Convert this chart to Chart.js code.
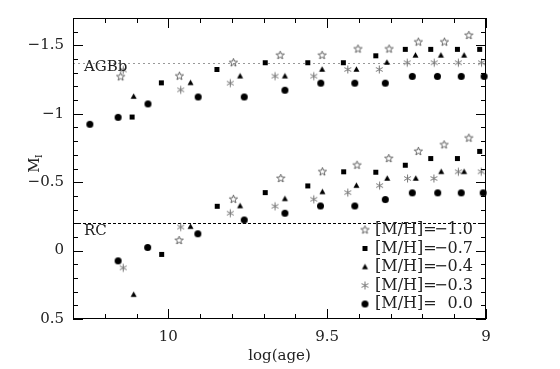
<!DOCTYPE html>
<html>
<head>
<meta charset="utf-8">
<script src="https://cdn.jsdelivr.net/npm/chart.js@4.4.0/dist/chart.umd.min.js"></script>
<style>
  html, body { margin: 0; padding: 0; background: #fff; }
  #wrap { width: 560px; height: 369px; }
</style>
</head>
<body>
<div id="wrap"><canvas id="chart" width="560" height="369"></canvas></div>
<script>
// [M/H] = -1.0 (open stars) - AGB bump then red clump
const starX = [10.15, 9.965, 9.795, 9.648, 9.516, 9.403, 9.305, 9.213, 9.131, 9.054,
               9.966, 9.795, 9.646, 9.515, 9.406, 9.306, 9.213, 9.132, 9.054];
const starY = [-1.27, -1.275, -1.373, -1.427, -1.427, -1.473, -1.473, -1.524, -1.524, -1.573,
               -0.074, -0.375, -0.527, -0.576, -0.624, -0.673, -0.725, -0.773, -0.822];

// [M/H] = -0.7 (squares)
const squareX = [10.114, 10.022, 9.847, 9.695, 9.561, 9.449, 9.347, 9.254, 9.174, 9.09, 9.02,
                 10.021, 9.846, 9.695, 9.561, 9.448, 9.347, 9.254, 9.174, 9.09, 9.02];
const squareY = [-0.976, -1.226, -1.324, -1.373, -1.373, -1.373, -1.424, -1.471, -1.471, -1.471, -1.471,
                 0.028, -0.324, -0.424, -0.473, -0.576, -0.573, -0.624, -0.673, -0.673, -0.725];

// [M/H] = -0.4 (triangles)
const triX = [10.109, 9.93, 9.774, 9.633, 9.516, 9.408, 9.312, 9.222, 9.142, 9.069,
              10.109, 9.93, 9.774, 9.633, 9.515, 9.408, 9.311, 9.221, 9.141, 9.069];
const triY = [-1.126, -1.226, -1.275, -1.275, -1.324, -1.324, -1.375, -1.427, -1.427, -1.427,
              0.322, -0.175, -0.326, -0.378, -0.429, -0.475, -0.527, -0.527, -0.576, -0.576];

// [M/H] = -0.3 (asterisks)
const astX = [10.142, 9.961, 9.805, 9.664, 9.542, 9.435, 9.336, 9.248, 9.163, 9.087, 9.014,
              10.142, 9.961, 9.805, 9.664, 9.542, 9.435, 9.335, 9.247, 9.164, 9.087, 9.015];
const astY = [-1.32, -1.175, -1.224, -1.275, -1.275, -1.324, -1.324, -1.373, -1.373, -1.373, -1.373,
              0.126, -0.172, -0.273, -0.324, -0.375, -0.424, -0.475, -0.527, -0.527, -0.576, -0.576];

// [M/H] = 0.0 (circles)
const circX = [10.247, 10.158, 10.064, 9.906, 9.761, 9.633, 9.52, 9.413, 9.317, 9.232, 9.153, 9.078, 9.006,
               10.158, 10.065, 9.907, 9.761, 9.633, 9.521, 9.413, 9.317, 9.232, 9.152, 9.078, 9.009];
const circY = [-0.923, -0.974, -1.072, -1.123, -1.123, -1.172, -1.224, -1.224, -1.224, -1.273, -1.273, -1.273, -1.273,
               0.075, -0.023, -0.123, -0.224, -0.273, -0.326, -0.326, -0.373, -0.422, -0.422, -0.422, -0.422];

const xTicks = [10, 9.5, 9];
const yTicks = [-1.5, -1, -0.5, 0, 0.5];
const agbLevel = -1.37;
const rcLevel = -0.2;
const seriesNames = ['\u22121.0', '\u22120.7', '\u22120.4', '\u22120.3', '0.0'];

const FONT = '"DejaVu Serif", serif';

// small symbol images used as point styles
function makeSym(kind) {
    const c = document.createElement('canvas');
    c.width = 11; c.height = 11;
    const g = c.getContext('2d');
    g.translate(5.5, 5.5);
    if (kind === 'circle') {
        g.fillStyle = '#000';
        g.beginPath(); g.arc(0, 0, 3.5, 0, Math.PI * 2); g.fill();
    } else if (kind === 'square') {
        g.fillStyle = '#000';
        g.fillRect(-2.5, -2.5, 5, 5);
    } else if (kind === 'triangle') {
        g.fillStyle = '#000';
        g.beginPath(); g.moveTo(0, -3.2); g.lineTo(3, 2.3); g.lineTo(-3, 2.3); g.closePath(); g.fill();
    } else if (kind === 'star') {
        g.strokeStyle = '#555'; g.lineWidth = 0.9;
        g.beginPath();
        for (let i = 0; i < 10; i++) {
            const r = i % 2 ? 1.8 : 4.3;
            const a = -Math.PI / 2 + i * Math.PI / 5;
            const px = r * Math.cos(a), py = r * Math.sin(a);
            if (i === 0) g.moveTo(px, py); else g.lineTo(px, py);
        }
        g.closePath(); g.stroke();
    } else if (kind === 'asterisk') {
        g.strokeStyle = '#777'; g.lineWidth = 1;
        g.beginPath();
        for (let i = 0; i < 3; i++) {
            const a = Math.PI / 2 + i * Math.PI / 3;
            g.moveTo(-4 * Math.cos(a), -4 * Math.sin(a));
            g.lineTo(4 * Math.cos(a), 4 * Math.sin(a));
        }
        g.stroke();
    }
    return c;
}

const syms = ['star', 'square', 'triangle', 'asterisk', 'circle'].map(makeSym);

function pts(xs, ys) {
    return xs.map((x, i) => ({ x: x, y: ys[i] }));
}

const datasets = [
    [starX, starY], [squareX, squareY], [triX, triY], [astX, astY], [circX, circY]
].map((s, i) => ({
    label: '[M/H]=' + seriesNames[i],
    data: pts(s[0], s[1]),
    pointStyle: syms[i],
    pointRadius: 5,
    showLine: false,
    clip: false
}));

// frame, inward ticks, reference lines, labels, legend
const decor = {
    id: 'decor',
    beforeDatasetsDraw(chart) {
        const ctx = chart.ctx, a = chart.chartArea, y = chart.scales.y;
        ctx.save();
        ctx.lineWidth = 1;
        ctx.strokeStyle = '#999';
        ctx.setLineDash([2, 3]);
        let py = Math.round(y.getPixelForValue(agbLevel)) + 0.5;
        ctx.beginPath(); ctx.moveTo(a.left, py); ctx.lineTo(a.right, py); ctx.stroke();
        ctx.strokeStyle = '#000';
        ctx.setLineDash([3, 2]);
        py = Math.round(y.getPixelForValue(rcLevel)) + 0.5;
        ctx.beginPath(); ctx.moveTo(a.left, py); ctx.lineTo(a.right, py); ctx.stroke();
        ctx.restore();
    },
    afterDraw(chart) {
        const ctx = chart.ctx, a = chart.chartArea;
        const xs = chart.scales.x, ys = chart.scales.y;
        ctx.save();
        ctx.strokeStyle = '#000';
        ctx.lineWidth = 1;
        ctx.strokeRect(a.left + 0.5, a.top + 0.5, a.right - a.left - 1, a.bottom - a.top - 1);

        ctx.beginPath();
        for (let k = 90; k <= 103; k++) {
            const v = k / 10;
            const px = Math.round(xs.getPixelForValue(v)) + 0.5;
            const len = k % 5 === 0 ? 10 : 5;
            ctx.moveTo(px, a.bottom); ctx.lineTo(px, a.bottom - len);
            ctx.moveTo(px, a.top); ctx.lineTo(px, a.top + len);
        }
        for (let k = -17; k <= 5; k++) {
            const v = k / 10;
            const py = Math.round(ys.getPixelForValue(v)) + 0.5;
            const len = k % 5 === 0 ? 10 : 5;
            ctx.moveTo(a.left, py); ctx.lineTo(a.left + len, py);
            ctx.moveTo(a.right, py); ctx.lineTo(a.right - len, py);
        }
        ctx.stroke();

        ctx.fillStyle = '#222';
        ctx.font = '15px ' + FONT;
        ctx.textAlign = 'left';
        ctx.textBaseline = 'alphabetic';
        ctx.fillText('AGBb', a.left + 11, 71);
        ctx.fillText('RC', a.left + 11, 235);

        // axis titles
        ctx.textAlign = 'center';
        ctx.fillText('log(age)', (a.left + a.right) / 2, 360);
        ctx.save();
        ctx.translate(39, 165);
        ctx.rotate(-Math.PI / 2);
        ctx.textAlign = 'center';
        ctx.fillText('M', 0, 0);
        ctx.font = '9px ' + FONT;
        ctx.textAlign = 'left';
        ctx.fillText('I', 7, 3);
        ctx.restore();

        // legend
        ctx.font = '16px ' + FONT;
        ctx.textBaseline = 'middle';
        const textLeft = a.right - 111;
        const valRight = a.right - 13;
        chart.data.datasets.forEach((d, i) => {
            const ry = a.bottom - 89 + i * 18.5;
            ctx.drawImage(d.pointStyle, textLeft - 15.5, ry - 5.5);
            ctx.textAlign = 'left';
            ctx.fillText('[M/H]=', textLeft, ry);
            ctx.textAlign = 'right';
            ctx.fillText(seriesNames[i], valRight, ry);
        });
        ctx.restore();
    }
};

Chart.defaults.font.family = FONT;
Chart.defaults.font.size = 15;
Chart.defaults.color = '#222';

new Chart(document.getElementById('chart'), {
    type: 'scatter',
    data: { datasets: datasets },
    options: {
        responsive: false,
        animation: false,
        layout: { padding: { top: 5, right: 74, left: 0, bottom: 0 } },
        plugins: { legend: { display: false }, tooltip: { enabled: false } },
        scales: {
            x: {
                type: 'linear',
                reverse: true,
                min: 9, max: 10.3,
                grid: { display: false, drawTicks: false },
                border: { display: false },
                afterBuildTicks: s => { s.ticks = xTicks.map(v => ({ value: v })); },
                afterFit: s => { s.height = 50; },
                ticks: { padding: 9, maxRotation: 0, callback: v => String(v) }
            },
            y: {
                type: 'linear',
                reverse: true,
                min: -1.7, max: 0.5,
                grid: { display: false, drawTicks: false },
                border: { display: false },
                afterBuildTicks: s => { s.ticks = yTicks.map(v => ({ value: v })); },
                afterFit: s => { s.width = 73; },
                ticks: { padding: 9, callback: v => (v < 0 ? '\u2212' + Math.abs(v) : String(v)) }
            }
        }
    },
    plugins: [decor]
});
</script>
</body>
</html>
